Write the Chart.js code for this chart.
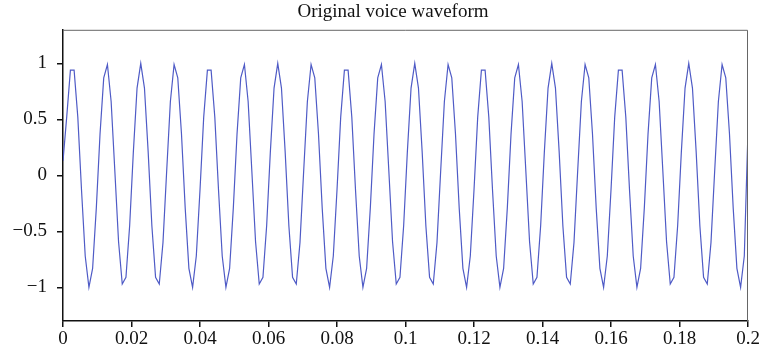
<!DOCTYPE html>
<html>
<head>
<meta charset="utf-8">
<script src="https://cdn.jsdelivr.net/npm/chart.js@4.4.0/dist/chart.umd.min.js"></script>
<style>
  html, body { margin: 0; padding: 0; background: #fff; }
  #wrap { width: 761px; height: 356px; }
</style>
</head>
<body>
<div id="wrap"><canvas id="myChart" width="761" height="356"></canvas></div>
<script>
// amplitude samples (about 9.25 samples per 100 Hz cycle)
var amplitude = [
  0.13, 0.52, 0.94, 0.94, 0.52, -0.13, -0.72, -1.0, -0.83, -0.29,
  0.37, 0.87, 0.99, 0.66, 0.04, -0.59, -0.97, -0.91, -0.45, 0.21,
  0.78, 1.0, 0.78, 0.21, -0.45, -0.91, -0.97, -0.6, 0.04, 0.66,
  0.99, 0.87, 0.37, -0.29, -0.83, -1.0, -0.72,
  -0.13, 0.52, 0.94, 0.94, 0.52, -0.13, -0.72, -1.0, -0.83, -0.29,
  0.37, 0.87, 0.99, 0.66, 0.04, -0.59, -0.97, -0.91, -0.45, 0.21,
  0.78, 1.0, 0.78, 0.21, -0.45, -0.91, -0.97, -0.6, 0.04, 0.66,
  0.99, 0.87, 0.37, -0.29, -0.83, -1.0, -0.72,
  -0.13, 0.52, 0.94, 0.94, 0.52, -0.13, -0.72, -1.0, -0.83, -0.29,
  0.37, 0.87, 0.99, 0.66, 0.04, -0.59, -0.97, -0.91, -0.45, 0.21,
  0.78, 1.0, 0.78, 0.21, -0.45, -0.91, -0.97, -0.6, 0.04, 0.66,
  0.99, 0.87, 0.37, -0.29, -0.83, -1.0, -0.72,
  -0.13, 0.52, 0.94, 0.94, 0.52, -0.13, -0.72, -1.0, -0.83, -0.29,
  0.37, 0.87, 0.99, 0.66, 0.04, -0.59, -0.97, -0.91, -0.45, 0.21,
  0.78, 1.0, 0.78, 0.21, -0.45, -0.91, -0.97, -0.6, 0.04, 0.66,
  0.99, 0.87, 0.37, -0.29, -0.83, -1.0, -0.72,
  -0.13, 0.52, 0.94, 0.94, 0.52, -0.13, -0.72, -1.0, -0.83, -0.29,
  0.37, 0.87, 0.99, 0.66, 0.04, -0.59, -0.97, -0.91, -0.45, 0.21,
  0.78, 1.0, 0.78, 0.21, -0.45, -0.91, -0.97, -0.6, 0.04, 0.66,
  0.99, 0.87, 0.37, -0.29, -0.83, -1.0, -0.72,
  0.4
];
var sampleStep = 0.2 / (amplitude.length - 1);

var xTicks = [0, 0.02, 0.04, 0.06, 0.08, 0.1, 0.12, 0.14, 0.16, 0.18, 0.2];
var xTickLabels = ["0", "0.02", "0.04", "0.06", "0.08", "0.1", "0.12", "0.14", "0.16", "0.18", "0.2"];
var yTicks = [-1, -0.5, 0, 0.5, 1];
var yTickLabels = ["\u22121", "\u22120.5", "0", "0.5", "1"];

var points = amplitude.map(function (v, i) {
  return { x: i * sampleStep, y: v };
});

// top and right edges of the plot box, title nudged over the plot
var frame = {
  id: "frame",
  afterLayout: function (chart) {
    if (chart.titleBlock) chart.titleBlock.left = 38;
  },
  afterDraw: function (chart) {
    var a = chart.chartArea, c = chart.ctx;
    c.save();
    c.strokeStyle = "#666";
    c.lineWidth = 1;
    c.beginPath();
    c.moveTo(a.left, a.top + 0.5);
    c.lineTo(a.right - 0.5, a.top + 0.5);
    c.lineTo(a.right - 0.5, a.bottom);
    c.stroke();
    c.restore();
  }
};

var serif = "'Liberation Serif', 'DejaVu Serif', serif";

var ctx = document.getElementById("myChart").getContext("2d");
var chart = new Chart(ctx, {
  type: "line",
  data: {
    datasets: [
      {
        label: "waveform",
        data: points,
        borderColor: "#4f5bc6",
        borderWidth: 1.2,
        pointRadius: 0,
        tension: 0,
        fill: false
      }
    ]
  },
  options: {
    responsive: false,
    animation: false,
    events: [],
    layout: { padding: { left: 0, right: 13, top: 0, bottom: 0 } },
    plugins: {
      legend: { display: false },
      tooltip: { enabled: false },
      title: {
        display: true,
        text: "Original voice waveform",
        color: "#111",
        font: { family: serif, size: 19, weight: "normal" },
        padding: { top: 1, bottom: 6 }
      }
    },
    scales: {
      x: {
        type: "linear",
        min: 0,
        max: 0.2,
        afterBuildTicks: function (s) {
          s.ticks = xTicks.map(function (v) { return { value: v }; });
        },
        afterFit: function (s) { s.height = 35; },
        ticks: {
          color: "#111",
          font: { family: serif, size: 19 },
          padding: 1,
          maxRotation: 0,
          callback: function (v, i) { return xTickLabels[i]; }
        },
        grid: { display: true, drawOnChartArea: false, drawTicks: true, tickLength: 6, color: "#111", lineWidth: 1.5 },
        border: { display: true, color: "#111", width: 1.5 }
      },
      y: {
        type: "linear",
        min: -1.3,
        max: 1.3,
        afterBuildTicks: function (s) {
          s.ticks = yTicks.map(function (v) { return { value: v }; });
        },
        afterFit: function (s) { s.width = 63; },
        ticks: {
          color: "#111",
          font: { family: serif, size: 19 },
          padding: 10,
          callback: function (v, i) { return yTickLabels[i]; }
        },
        grid: { display: true, drawOnChartArea: false, drawTicks: true, tickLength: 6, color: "#111", lineWidth: 1.5 },
        border: { display: true, color: "#111", width: 1.5 }
      }
    }
  },
  plugins: [frame]
});
</script>
</body>
</html>
